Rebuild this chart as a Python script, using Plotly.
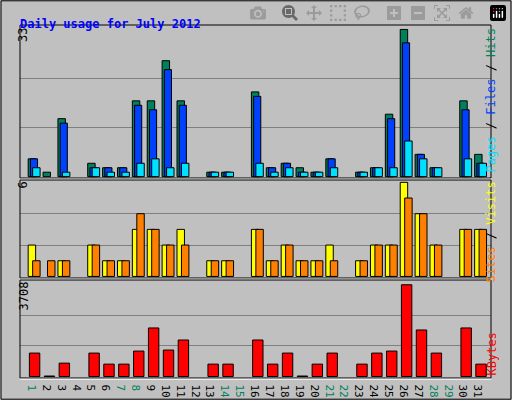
import plotly.graph_objects as go

days = list(range(1, 32))
hits = [4, 1, 13, 0, 3, 2, 2, 17, 17, 26, 17, 0, 1, 1, 0, 19, 2, 3, 2, 1, 4, 0, 1, 2, 14, 33, 5, 2, 0, 17, 5]
files = [4, 0, 12, 0, 2, 2, 2, 16, 15, 24, 16, 0, 1, 1, 0, 18, 2, 3, 1, 1, 4, 0, 1, 2, 13, 30, 5, 2, 0, 15, 3]
pages = [2, 0, 1, 0, 2, 1, 1, 3, 4, 2, 3, 0, 1, 1, 0, 3, 1, 2, 1, 1, 2, 0, 1, 2, 2, 8, 4, 2, 0, 4, 3]
visits = [2, 0, 1, 0, 2, 1, 1, 3, 3, 2, 3, 0, 1, 1, 0, 3, 1, 2, 1, 1, 2, 0, 1, 2, 2, 6, 4, 2, 0, 3, 3]
sites = [1, 1, 1, 0, 2, 1, 1, 4, 3, 2, 2, 0, 1, 1, 0, 3, 1, 2, 1, 1, 1, 0, 1, 2, 2, 5, 4, 2, 0, 3, 3]
kbytes = [947, 20, 541, 0, 947, 500, 500, 1028, 1962, 1069, 1475, 0, 500, 500, 0, 1475, 500, 947, 20, 500, 947, 0, 500, 947, 1028, 3708, 1881, 947, 0, 1962, 500]
weekend = {1, 7, 8, 14, 15, 21, 22, 28, 29}

GREEN = "#00805C"
line = dict(color="black", width=1)

fig = go.Figure()

def add_bar(vals, color, offset, width, axis):
    xs = [d for d, v in zip(days, vals) if v > 0]
    ys = [v for v in vals if v > 0]
    fig.add_trace(go.Bar(x=xs, y=ys, marker=dict(color=color, line=line),
                         offset=offset, width=width, xaxis="x" + axis, yaxis="y" + axis,
                         hoverinfo="x+y"))

add_bar(hits, GREEN, -0.35, 0.5, "")
add_bar(files, "#0040FF", -0.2, 0.48, "")
add_bar(pages, "#00E0FF", -0.05, 0.5, "")
add_bar(visits, "#FFFF00", -0.35, 0.5, "2")
add_bar(sites, "#FF8000", -0.05, 0.5, "2")
add_bar(kbytes, "#FF0000", -0.27, 0.7, "3")

xdom = [20 / 512, 491 / 512]
xcommon = dict(range=[0.1, 31.75], showgrid=False, zeroline=False, domain=xdom,
               tickvals=days, showline=False)
ticktext = ["<span style='color:%s'>%d</span>" % (GREEN if d in weekend else "black", d) for d in days]

grid = dict(showgrid=True, gridcolor="#808080", gridwidth=1, showticklabels=False,
            zeroline=False, ticks="")

fig.update_layout(
    width=512, height=400, margin=dict(l=0, r=0, t=0, b=0),
    paper_bgcolor="#C0C0C0", plot_bgcolor="#C0C0C0",
    barmode="overlay", showlegend=False,
    font=dict(family="DejaVu Sans Mono", size=11, color="black"),
    xaxis=dict(xcommon, showticklabels=False, anchor="y"),
    xaxis2=dict(xcommon, showticklabels=False, anchor="y2"),
    xaxis3=dict(xcommon, ticktext=ticktext, anchor="y3", ticks="", tickfont=dict(size=11)),
    yaxis=dict(grid, domain=[0.555, 0.9375], range=[-0.3, 34], tickvals=[11, 22]),
    yaxis2=dict(grid, domain=[0.305, 0.55], range=[-0.1, 6.15], tickvals=[2, 4]),
    yaxis3=dict(grid, domain=[0.055, 0.30], range=[-60, 3900], tickvals=[1236, 2472]),
)

shapes = [dict(type="rect", xref="paper", yref="paper", x0=0.002, y0=0.002, x1=0.998, y1=0.998,
               line=dict(color="black", width=1))]
for dom in [[0.555, 0.9375], [0.305, 0.55], [0.055, 0.30]]:
    shapes.append(dict(type="rect", xref="paper", yref="paper", x0=xdom[0], x1=xdom[1],
                       y0=dom[0], y1=dom[1], line=dict(color="black", width=1)))
    shapes.append(dict(type="line", xref="paper", yref="paper", x0=xdom[0], x1=xdom[1],
                       y0=dom[0] - 0.003, y1=dom[0] - 0.003, line=dict(color="white", width=1)))
fig.update_layout(shapes=shapes)

ann = [
    dict(text="<b>Daily usage for July 2012</b>", x=18 / 512, y=1 - 15 / 400, xanchor="left",
         font=dict(color="#0000FF", size=12)),
    dict(text="33", x=14 / 512, y=0.935, yanchor="top", textangle=-90, font=dict(size=12)),
    dict(text="6", x=14 / 512, y=0.55, yanchor="top", textangle=-90, font=dict(size=12)),
    dict(text="3708", x=14 / 512, y=0.30, yanchor="top", textangle=-90, font=dict(size=12)),
    dict(text="<span style='color:#00E0FF'>Pages</span> / <span style='color:#0040FF'>Files</span>"
              " / <span style='color:#00805C'>Hits</span>",
         x=500 / 512, y=0.935, yanchor="top", textangle=-90, font=dict(size=12)),
    dict(text="<span style='color:#FF8000'>Sites</span> / <span style='color:#FFFF00'>Visits</span>",
         x=500 / 512, y=0.55, yanchor="top", textangle=-90, font=dict(size=12)),
    dict(text="<span style='color:#FF0000'>KBytes</span>",
         x=500 / 512, y=0.055, yanchor="bottom", textangle=-90, font=dict(size=12)),
]
for a in ann:
    a.update(xref="paper", yref="paper", showarrow=False)
fig.update_layout(annotations=ann)

fig.write_html("out.html", post_script="document.body.style.margin='0';")
